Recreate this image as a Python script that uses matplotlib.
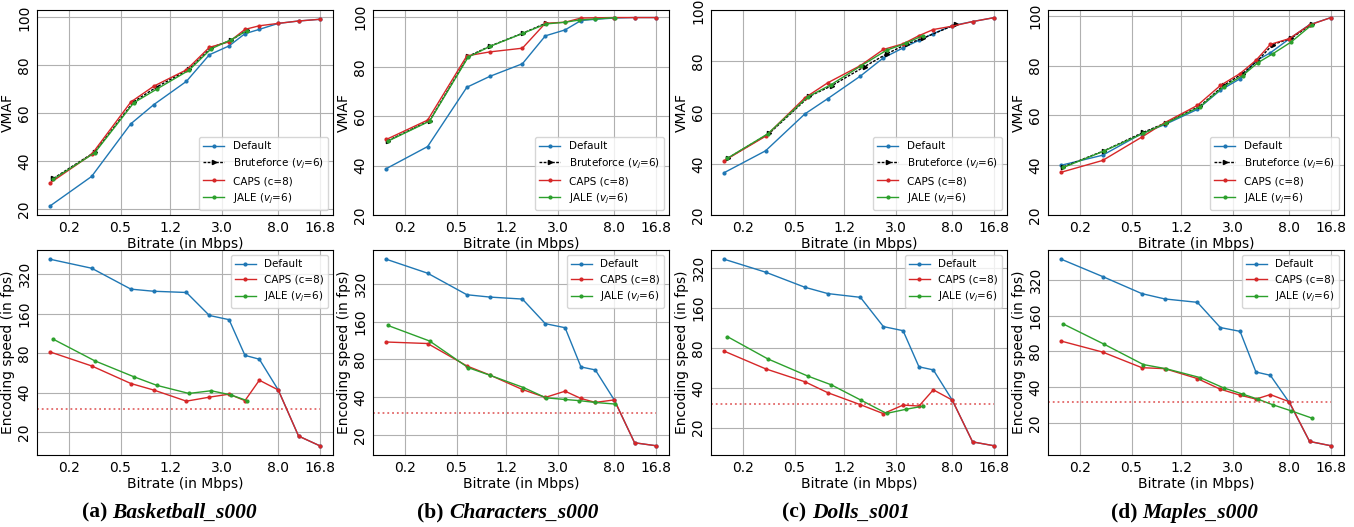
import matplotlib
matplotlib.use('Agg')
import matplotlib.pyplot as plt
from matplotlib.ticker import FixedLocator, FixedFormatter, NullLocator

# Bitrate ladder used by Default and CAPS (Mbps)
ladder = [0.145, 0.3, 0.6, 0.9, 1.6, 2.4, 3.4, 4.5, 5.8, 8.1, 11.6, 16.8]

# JALE / Bruteforce bitrates per video
rate_jale_a = [0.153, 0.317, 0.63, 0.95, 1.67, 2.48, 3.5, 4.68]
rate_jale_b = [0.149, 0.311, 0.614, 0.9, 1.63, 2.42, 3.39, 4.37, 5.73, 8.25]
rate_jale_c = [0.153, 0.311, 0.633, 0.957, 1.63, 2.54, 3.57, 4.8]
rate_jale_d = [0.150, 0.308, 0.617, 0.916, 1.68, 2.54, 3.56, 4.64, 6.05, 8.4, 12.1]
rate_bf_a = rate_jale_a
rate_bf_b = [0.149, 0.311, 0.614, 0.9, 1.63, 2.42]
rate_bf_c = [0.155, 0.32, 0.65, 0.97, 1.72, 2.55, 3.65, 4.8, 8.6]
rate_bf_d = rate_jale_d

# VMAF
vmaf_def_a = [21.4, 33.6, 55.6, 63.6, 73.3, 84.4, 88.1, 93.2, 95.0, 97.5, 98.5, 99.2]
vmaf_caps_a = [31.0, 42.8, 64.7, 71.3, 78.1, 87.5, 89.8, 95.0, 96.5, 97.5, 98.5, 99.2]
vmaf_jale_a = [32.5, 43.5, 64.3, 70.1, 77.9, 86.9, 90.6, 94.5]
vmaf_bf_a = [32.8, 43.8, 64.8, 71.0, 78.3, 87.4, 90.4, 94.7]

vmaf_def_b = [38.8, 47.7, 71.7, 76.1, 81.2, 92.5, 94.9, 98.7, 99.2, 99.7, 99.9, 99.9]
vmaf_caps_b = [50.6, 58.4, 84.4, 86.0, 87.5, 97.6, 98.0, 99.7, 99.8, 99.9, 99.9, 99.9]
vmaf_jale_b = [49.9, 58.0, 83.9, 88.2, 93.6, 97.3, 98.0, 98.9, 99.3, 99.9]
vmaf_bf_b = [50.1, 58.2, 84.2, 88.3, 93.7, 97.6]

vmaf_def_c = [36.6, 45.1, 59.5, 65.5, 74.3, 81.4, 85.3, 88.3, 90.9, 94.0, 95.6, 97.1]
vmaf_caps_c = [41.3, 50.8, 65.8, 71.7, 78.4, 84.7, 86.9, 90.1, 92.5, 93.8, 95.6, 97.1]
vmaf_jale_c = [42.2, 51.7, 66.2, 71.0, 78.4, 84.4, 87.1, 90.1]
vmaf_bf_c = [42.3, 51.9, 66.4, 70.6, 78.0, 83.0, 86.9, 89.0, 94.5]

vmaf_def_d = [40.0, 44.0, 52.7, 56.3, 62.4, 70.1, 74.7, 81.9, 85.1, 90.7, 96.4, 99.2]
vmaf_caps_d = [37.2, 41.9, 51.3, 57.1, 64.0, 72.0, 76.8, 82.1, 88.5, 90.8, 96.3, 99.2]
vmaf_jale_d = [39.1, 45.7, 52.8, 56.8, 63.5, 71.5, 76.0, 81.1, 84.7, 89.5, 96.4]
vmaf_bf_d = [39.3, 45.8, 53.2, 57.0, 63.8, 72.0, 76.8, 82.0, 88.4, 91.0, 96.7]

# Encoding speed (fps)
fps_def_a = [415, 355, 246, 237, 232, 155, 144, 77, 72, 42, 18.7, 15.8]
fps_caps_a = [81.6, 64, 47, 41.9, 34.5, 37, 39, 34.8, 49.8, 42, 18.7, 15.8]
fps_jale_a = [102, 70, 53, 45.5, 39.5, 41.4, 38.5, 34.8]

fps_def_b = [502, 389, 262, 251, 242, 154, 143, 69.6, 65.9, 38, 17.3, 16.4]
fps_caps_b = [110, 107, 70.9, 60, 46, 39.8, 44.6, 39, 36.3, 38, 17.3, 16.4]
fps_jale_b = [149, 112, 68.7, 59.8, 47.7, 39.5, 38.3, 37.5, 36.3, 35.2]

fps_def_c = [374, 299, 230, 206, 193, 116, 108, 57.6, 54.6, 32.3, 15.6, 14.6]
fps_caps_c = [75.5, 55.6, 44.4, 36.7, 29.8, 25.5, 29.6, 29.1, 38.6, 32.3, 15.6, 14.6]
fps_jale_c = [97.3, 66.2, 49, 42.1, 32.1, 25.6, 27.5, 29]

fps_def_d = [476, 341, 245, 221, 207, 127, 118, 53.7, 50.4, 29.8, 14.0, 12.9]
fps_caps_d = [97.6, 79, 58.4, 57.3, 47.3, 38.5, 34.3, 31.8, 34.7, 30.2, 14.0, 12.9]
fps_jale_d = [136, 92, 62, 57.3, 48.2, 39.5, 35, 31.8, 28.5, 25.3, 22]

target_fps = 30

captions = ['(a) ', '(b) ', '(c) ', '(d) ']
videos = ['Basketball_s000', 'Characters_s000', 'Dolls_s001', 'Maples_s000']

x_ticks = [0.2, 0.5, 1.2, 3.0, 8.0, 16.8]
x_labels = ['0.2', '0.5', '1.2', '3.0', '8.0', '16.8']

panels = [
    (rate_jale_a, rate_bf_a, vmaf_def_a, vmaf_caps_a, vmaf_jale_a, vmaf_bf_a, fps_def_a, fps_caps_a, fps_jale_a),
    (rate_jale_b, rate_bf_b, vmaf_def_b, vmaf_caps_b, vmaf_jale_b, vmaf_bf_b, fps_def_b, fps_caps_b, fps_jale_b),
    (rate_jale_c, rate_bf_c, vmaf_def_c, vmaf_caps_c, vmaf_jale_c, vmaf_bf_c, fps_def_c, fps_caps_c, fps_jale_c),
    (rate_jale_d, rate_bf_d, vmaf_def_d, vmaf_caps_d, vmaf_jale_d, vmaf_bf_d, fps_def_d, fps_caps_d, fps_jale_d),
]

W, H = 1354, 527
fig = plt.figure(figsize=(W / 100, H / 100), dpi=100)

lefts = [37, 373, 711, 1048]
width = 296
tops = [10, 250]
height = 205


def style_axis(ax):
    ax.xaxis.set_major_locator(FixedLocator(x_ticks))
    ax.xaxis.set_major_formatter(FixedFormatter(x_labels))
    ax.xaxis.set_minor_locator(NullLocator())
    ax.grid(True, color='#b0b0b0', lw=0.8)
    ax.tick_params(length=0, labelsize=10, pad=4)
    for lab in ax.get_yticklabels():
        lab.set_rotation(90)
        lab.set_va('center')
    ax.set_xlabel('Bitrate (in Mbps)', fontsize=10, labelpad=2)


mk = dict(marker='.', markersize=4, lw=1)

for i, (rj, rb, vd, vc, vj, vb, fd, fc, fj) in enumerate(panels):
    # VMAF row
    ax = fig.add_axes([lefts[i] / W, 1 - (tops[0] + height) / H, width / W, height / H])
    ax.set_xscale('log')
    ax.plot(ladder, vd, color='tab:blue', label='Default', **mk)
    ax.plot(rb, vb, color='black', ls=(0, (2, 1)), marker='>', markersize=3, lw=1,
            label='Bruteforce ($v_j$=6)')
    ax.plot(ladder, vc, color='tab:red', label='CAPS (c=8)', **mk)
    ax.plot(rj, vj, color='tab:green', label='JALE ($v_j$=6)', **mk)
    lo, hi = ax.get_ylim()
    ax.set_ylim(min(lo, 20), hi)
    ax.set_yticks([20, 40, 60, 80, 100])
    ax.set_ylabel('VMAF', fontsize=10, labelpad=2)
    style_axis(ax)
    ax.legend(loc='lower right', fontsize=7.5)

    # Encoding speed row
    ax = fig.add_axes([lefts[i] / W, 1 - (tops[1] + height) / H, width / W, height / H])
    ax.set_xscale('log')
    ax.set_yscale('log')
    ax.plot(ladder, fd, color='tab:blue', label='Default', **mk)
    ax.plot(ladder, fc, color='tab:red', label='CAPS (c=8)', **mk)
    ax.plot(rj, fj, color='tab:green', label='JALE ($v_j$=6)', **mk)
    xl = ax.get_xlim()
    yl = ax.get_ylim()
    ax.hlines(target_fps, xl[0], ladder[-1], colors='tab:red', linestyles=':', lw=1.3, alpha=0.7)
    ax.set_xlim(xl)
    ax.set_ylim(yl)
    ax.yaxis.set_major_locator(FixedLocator([20, 40, 80, 160, 320]))
    ax.yaxis.set_major_formatter(FixedFormatter(['20', '40', '80', '160', '320']))
    ax.yaxis.set_minor_locator(NullLocator())
    ax.set_ylabel('Encoding speed (in fps)', fontsize=10, labelpad=2)
    style_axis(ax)
    ax.legend(loc='upper right', fontsize=7.5)

# Sub-figure captions
fig.canvas.draw()
rend = fig.canvas.get_renderer()
for i in range(4):
    cx = (i + 0.5) / 4
    t1 = fig.text(0, 0.027, captions[i], fontsize=15.5, family='Liberation Serif',
                  weight='bold', va='center')
    t2 = fig.text(0, 0.027, videos[i], fontsize=15.5, family='Liberation Serif',
                  weight='bold', style='italic', va='center')
    w1 = t1.get_window_extent(rend).width / W
    w2 = t2.get_window_extent(rend).width / W
    start = cx - (w1 + w2) / 2
    t1.set_x(start)
    t2.set_x(start + w1)

fig.savefig('out.png', dpi=100)
